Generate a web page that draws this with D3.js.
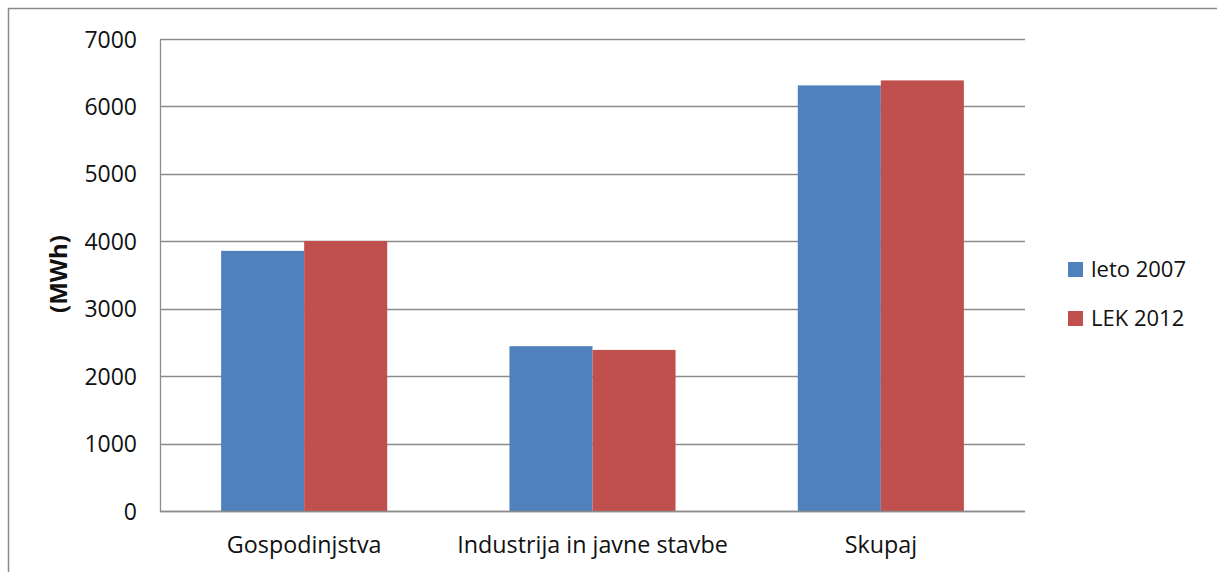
<!DOCTYPE html>
<html>
<head>
<meta charset="utf-8">
<script src="https://cdn.jsdelivr.net/npm/d3@7"></script>
<style>
  html, body { margin: 0; padding: 0; background: #fff; }
  svg { display: block; }
  text { font-family: "Open Sans", "Liberation Sans", sans-serif; fill: #111; }
</style>
</head>
<body>
<svg id="chart" width="1217" height="572"></svg>
<script>
// Electricity consumption by sector (MWh)
const categories = ["Gospodinjstva", "Industrija in javne stavbe", "Skupaj"];
const seriesNames = ["leto 2007", "LEK 2012"];
const values2007 = [3858, 2444, 6312];
const valuesLEK2012 = [4005, 2389, 6386];
const yTicks = [0, 1000, 2000, 3000, 4000, 5000, 6000, 7000];
const colors = ["#4f81bd", "#c0504d"];

const seriesValues = [values2007, valuesLEK2012];

const svg = d3.select("#chart");
const W = 1217, H = 572;
const plot = { left: 160, right: 1025, top: 39, bottom: 511 };

// Outer chart frame (top and left edges visible)
svg.append("path")
  .attr("d", `M8.5,${H + 5} L8.5,8.5 L${W + 5},8.5`)
  .attr("fill", "none")
  .attr("stroke", "#8a8a8a")
  .attr("stroke-width", 1.5);

const x = d3.scaleBand()
  .domain(categories)
  .range([plot.left, plot.right])
  .paddingInner(0.424)
  .paddingOuter(0.212);

const xSub = d3.scaleBand()
  .domain(seriesNames)
  .range([0, x.bandwidth()]);

const y = d3.scaleLinear()
  .domain([0, 7000])
  .range([plot.bottom, plot.top]);

// Horizontal gridlines
svg.append("g")
  .selectAll("line")
  .data(yTicks)
  .join("line")
  .attr("x1", plot.left)
  .attr("x2", plot.right)
  .attr("y1", d => Math.round(y(d)) + 0.5)
  .attr("y2", d => Math.round(y(d)) + 0.5)
  .attr("stroke", "#8c8c8c")
  .attr("stroke-width", 1.3);

// Bars
const groups = svg.append("g")
  .selectAll("g")
  .data(categories)
  .join("g")
  .attr("transform", d => `translate(${x(d)},0)`);

groups.selectAll("rect")
  .data((c, i) => seriesNames.map((s, k) => ({ s, v: seriesValues[k][i], k })))
  .join("rect")
  .attr("x", d => xSub(d.s))
  .attr("width", xSub.bandwidth())
  .attr("y", d => y(d.v))
  .attr("height", d => y(0) - y(d.v))
  .attr("fill", d => colors[d.k]);

// Y axis line
svg.append("line")
  .attr("x1", plot.left + 0.5).attr("x2", plot.left + 0.5)
  .attr("y1", plot.top).attr("y2", plot.bottom + 1)
  .attr("stroke", "#8c8c8c").attr("stroke-width", 1.3);

// X axis baseline
svg.append("line")
  .attr("x1", plot.left).attr("x2", plot.right)
  .attr("y1", Math.round(y(0)) + 0.5).attr("y2", Math.round(y(0)) + 0.5)
  .attr("stroke", "#8c8c8c").attr("stroke-width", 1.5);

// Y tick labels
const yAxis = d3.axisLeft(y).tickValues(yTicks).tickFormat(d3.format("d")).tickSize(0).tickPadding(0);
const gy = svg.append("g")
  .attr("transform", `translate(137,0)`)
  .call(yAxis);
gy.select(".domain").remove();
gy.selectAll("text")
  .attr("font-family", "'Open Sans', 'Liberation Sans', sans-serif")
  .attr("font-size", 23)
  .attr("fill", "#111")
  .attr("dy", "0.35em");

// X category labels
const xAxis = d3.axisBottom(x).tickSize(0).tickPadding(0);
const gx = svg.append("g")
  .attr("transform", `translate(0,553)`)
  .call(xAxis);
gx.select(".domain").remove();
gx.selectAll("text")
  .attr("font-family", "'Open Sans', 'Liberation Sans', sans-serif")
  .attr("font-size", 23.3)
  .attr("fill", "#111")
  .attr("dy", 0);

// Y axis title
svg.append("text")
  .attr("transform", "translate(67,274) rotate(-90)")
  .attr("text-anchor", "middle")
  .attr("font-size", 24)
  .attr("font-weight", "bold")
  .text("(MWh)");

// Legend
const legend = svg.append("g")
  .selectAll("g")
  .data(seriesNames)
  .join("g")
  .attr("transform", (d, i) => `translate(1068,${262 + i * 49})`);

legend.append("rect")
  .attr("width", 15).attr("height", 15)
  .attr("fill", (d, i) => colors[i]);

legend.append("text")
  .attr("x", 23)
  .attr("y", 14.5)
  .attr("font-size", 22)
  .text(d => d);
</script>
</body>
</html>
